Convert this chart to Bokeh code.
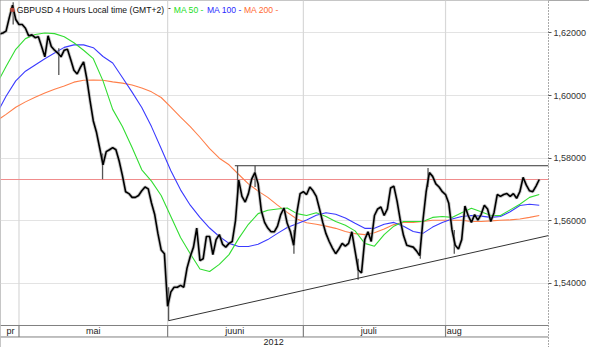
from bokeh.plotting import figure
from bokeh.models import (Range1d, FixedTicker, CustomJSTickFormatter,
                          Label, ColumnDataSource)
from bokeh.core.properties import value
from bokeh.embed import file_html
from bokeh.resources import INLINE

# ---------------- data (x = trading days since 1 May 2012) ----------------
close_start = -3.0
close_step = 0.5
close = [1.6197, 1.6200, 1.6206, 1.6249, 1.6289, 1.6243, 1.6227, 1.6227, 1.6215, 1.6191,
         1.6194, 1.6185, 1.6188, 1.6157, 1.6124, 1.6191, 1.6157, 1.6145, 1.6136, 1.6124,
         1.6145, 1.6148, 1.6115, 1.6081, 1.6069, 1.6090, 1.6108, 1.6053, 1.5983, 1.5919,
         1.5882, 1.5831, 1.5779, 1.5821, 1.5827, 1.5834, 1.5827, 1.5791, 1.5745, 1.5693,
         1.5687, 1.5675, 1.5675, 1.5681, 1.5696, 1.5708, 1.5702, 1.5657, 1.5620, 1.5559,
         1.5507, 1.5495, 1.5327, 1.5373, 1.5388, 1.5388, 1.5394, 1.5388, 1.5449, 1.5486,
         1.5516, 1.5577, 1.5473, 1.5479, 1.5550, 1.5550, 1.5492, 1.5540, 1.5556, 1.5525,
         1.5516, 1.5528, 1.5534, 1.5601, 1.5730, 1.5678, 1.5660, 1.5687, 1.5733, 1.5754,
         1.5718, 1.5632, 1.5595, 1.5577, 1.5565, 1.5565, 1.5583, 1.5620, 1.5641, 1.5592,
         1.5565, 1.5522, 1.5626, 1.5687, 1.5693, 1.5684, 1.5708, 1.5696, 1.5678, 1.5638,
         1.5595, 1.5559, 1.5534, 1.5513, 1.5495, 1.5510, 1.5528, 1.5519, 1.5528, 1.5565,
         1.5504, 1.5443, 1.5434, 1.5540, 1.5565, 1.5534, 1.5617, 1.5638, 1.5644, 1.5617,
         1.5638, 1.5705, 1.5711, 1.5663, 1.5602, 1.5553, 1.5522, 1.5519, 1.5516, 1.5504,
         1.5489, 1.5601, 1.5693, 1.5754, 1.5742, 1.5718, 1.5708, 1.5693, 1.5684, 1.5656,
         1.5571, 1.5522, 1.5510, 1.5540, 1.5647, 1.5617, 1.5595, 1.5620, 1.5602, 1.5620,
         1.5650, 1.5638, 1.5598, 1.5626, 1.5684, 1.5678, 1.5684, 1.5687, 1.5678, 1.5687,
         1.5672, 1.5693, 1.5739, 1.5714, 1.5696, 1.5693, 1.5711, 1.5732]

# a few visible bar extremes (high / low wicks)
wick_days = [-0.9, 6.16, 12.93, 23.15, 33.82, 36.53, 42.54, 52.47, 62.09, 63.29, 67.35]
wick_high = [1.6298, 1.6151, 1.5815, 1.5388, 1.5776, 1.5776, 1.5571, 1.5479, 1.5510, 1.5769, 1.5571]
wick_low = [1.6227, 1.6066, 1.5733, 1.5281, 1.5693, 1.5708, 1.5495, 1.5412, 1.5479, 1.5708, 1.5495]

ma_start = -3.5
ma_step = 1.5
ma50 = [1.6035, 1.6093, 1.6148, 1.6182, 1.6195, 1.6200, 1.6198, 1.6188, 1.6169, 1.6145,
        1.6118, 1.6047, 1.5956, 1.5901, 1.5834, 1.5763, 1.5727, 1.5681, 1.5614, 1.5547,
        1.5495, 1.5446, 1.5438, 1.5461, 1.5492, 1.5544, 1.5589, 1.5623, 1.5634, 1.5638,
        1.5641, 1.5623, 1.5617, 1.5626, 1.5614, 1.5598, 1.5586, 1.5568, 1.5528, 1.5519,
        1.5556, 1.5583, 1.5598, 1.5598, 1.5598, 1.5611, 1.5614, 1.5611, 1.5626, 1.5640,
        1.5629, 1.5617, 1.5617, 1.5635, 1.5653, 1.5675, 1.5684]
ma100 = [1.5940, 1.5998, 1.6047, 1.6078, 1.6098, 1.6118, 1.6136, 1.6154, 1.6162, 1.6162,
         1.6153, 1.6125, 1.6104, 1.6058, 1.6011, 1.5962, 1.5901, 1.5831, 1.5760, 1.5699,
         1.5650, 1.5611, 1.5577, 1.5550, 1.5528, 1.5518, 1.5518, 1.5525, 1.5540, 1.5560,
         1.5579, 1.5591, 1.5603, 1.5618, 1.5626, 1.5621, 1.5609, 1.5592, 1.5576, 1.5576,
         1.5589, 1.5595, 1.5583, 1.5566, 1.5560, 1.5580, 1.5595, 1.5606, 1.5614, 1.5617,
         1.5615, 1.5611, 1.5614, 1.5629, 1.5649, 1.5653, 1.5650]
ma200 = [1.5919, 1.5940, 1.5963, 1.5980, 1.5995, 1.6008, 1.6020, 1.6031, 1.6043, 1.6049,
         1.6050, 1.6049, 1.6044, 1.6040, 1.6034, 1.6024, 1.6012, 1.5994, 1.5963, 1.5931,
         1.5901, 1.5867, 1.5831, 1.5800, 1.5779, 1.5748, 1.5718, 1.5695, 1.5675, 1.5650,
         1.5627, 1.5606, 1.5594, 1.5589, 1.5583, 1.5576, 1.5566, 1.5559, 1.5556, 1.5562,
         1.5574, 1.5588, 1.5595, 1.5595, 1.5598, 1.5602, 1.5602, 1.5602, 1.5602, 1.5598,
         1.5598, 1.5600, 1.5602, 1.5603, 1.5606, 1.5611, 1.5617]

last_price = 1.5732
last_price_text = "1,57320"
resistance_price = 1.5776
resistance_from_day = 33.4
support_days = [23.15, 81.93]
support_prices = [1.5281, 1.5553]

view_days = [-2.86, 81.93]
price_top = 1.63038
price_bottom = 1.52657          # bottom of the price pane
month_row_bottom = 1.52290      # month row sits below the price pane
year_row_bottom = 1.51954       # year row below the month row
price_ticks = [1.54, 1.56, 1.58, 1.60, 1.62]
month_bounds = [0.0, 23.0, 44.0, 66.0]
month_label_days = [-1.3, 11.5, 33.4, 54.1, 67.35]
month_labels = ["pr", "mai", "juuni", "juuli", "aug"]
year_label_days = [39.4]
year_labels = ["2012"]

title_text = "GBPUSD 4 Hours Local time (GMT+2)"
legend_items = [("MA 50 -", "#22dd22"), ("MA 100 -", "#2a2aff"), ("MA 200 -", "#ff6a33")]

FONT = "Liberation Sans"
GREEN, BLUE, ORANGE = "#33dd33", "#3b3bff", "#ff7f4a"
BAND = "#808080"

# ---------------- figure ----------------
p = figure(width=589, height=347, output_backend="svg", toolbar_location=None,
           x_range=Range1d(*view_days), y_range=Range1d(year_row_bottom, price_top),
           y_axis_location="right", x_axis_location=None,
           min_border_left=0, min_border_top=0, min_border_right=40, min_border_bottom=0)
p.outline_line_color = None
p.background_fill_color = "white"
p.border_fill_color = "white"
p.styles = {"outline": "1px solid #8c8c8c", "outline-offset": "-1px"}

# right price axis
ya = p.yaxis[0]
ya.ticker = FixedTicker(ticks=price_ticks, minor_ticks=[])
ya.formatter = CustomJSTickFormatter(code="return tick.toFixed(5).replace('.', ',');")
ya.axis_line_color = "#555555"
ya.axis_line_dash = "1 2"
ya.major_tick_out = 3
ya.major_tick_in = 0
ya.major_tick_line_color = "#555555"
ya.major_label_standoff = 2
ya.major_label_text_font = FONT
ya.major_label_text_font_size = "9px"
ya.major_label_text_color = "#333333"

p.ygrid.ticker = FixedTicker(ticks=price_ticks)
p.ygrid.grid_line_color = "#e3e3e3"
p.xgrid.visible = False

# vertical month grid lines in the price pane
n = len(month_bounds)
grid_src = ColumnDataSource(dict(x=month_bounds, y0=[price_bottom] * n, y1=[price_top] * n,
                                 y2=[month_row_bottom] * n))
p.segment(x0="x", x1="x", y0="y0", y1="y1", source=grid_src,
          line_color="#d8d8d8", line_width=1.2)

# ---------------- time rows (months / year) ----------------
p.segment(x0=[view_days[0]] * 2, x1=[view_days[1]] * 2,
          y0=[price_bottom, month_row_bottom], y1=[price_bottom, month_row_bottom],
          line_color=BAND, line_width=1)
p.segment(x0="x", x1="x", y0="y2", y1="y0", source=grid_src,
          line_color=BAND, line_width=1.2)
p.text(x=month_label_days, y=[(price_bottom + month_row_bottom) / 2] * len(month_labels),
       text=month_labels, text_font=value(FONT), text_font_size="9px", text_color="#222222",
       text_align="center", text_baseline="middle")
p.text(x=year_label_days, y=[(month_row_bottom + year_row_bottom) / 2] * len(year_labels),
       text=year_labels, text_font=value(FONT), text_font_size="9px", text_color="#222222",
       text_align="center", text_baseline="middle")

# ---------------- price glyphs ----------------
p.line(view_days, [last_price, last_price], line_color="#f08c8c", line_width=1.2)

ma_days = [ma_start + ma_step * i for i in range(len(ma50))]
p.line(ma_days, ma200, line_color=ORANGE, line_width=1.1)
p.line(ma_days, ma100, line_color=BLUE, line_width=1.1)
p.line(ma_days, ma50, line_color=GREEN, line_width=1.1)

close_days = [close_start + close_step * i for i in range(len(close))]
src = ColumnDataSource(dict(day=close_days, close=close))
p.segment(x0=wick_days, x1=wick_days, y0=wick_low, y1=wick_high,
          line_color="#555555", line_width=1.3)
p.line("day", "close", source=src, line_color="#9a9a9a", line_width=3.4, line_alpha=0.55)
p.line("day", "close", source=src, line_color="#000000", line_width=1.6)

p.line([resistance_from_day, view_days[1]], [resistance_price, resistance_price],
       line_color="#333333", line_width=1)
p.line(support_days, support_prices, line_color="#333333", line_width=1)

# last price tag on the axis
p.add_layout(Label(x=551, x_units="screen", y=last_price, y_units="data",
                   text=" " + last_price_text + " ", text_font=FONT, text_font_size="9px",
                   text_color="#222222", text_baseline="middle",
                   border_line_color="#555555", background_fill_color="white"))

# header / legend text
title_y = 1.6290
p.add_layout(Label(x=9.5, x_units="screen", y=title_y, text="■", text_font=FONT,
                   text_font_size="8px", text_color="#b5443a", text_baseline="top"))
p.add_layout(Label(x=16.3, x_units="screen", y=title_y, text=title_text, text_font=FONT,
                   text_font_size="8.6px", text_color="#111111", text_baseline="top"))
p.add_layout(Label(x=167.5, x_units="screen", y=title_y, text="-", text_font=FONT,
                   text_font_size="8.6px", text_color="#111111", text_baseline="top"))
for (txt, col), xs in zip(legend_items, [173.3, 206.4, 243.4]):
    p.add_layout(Label(x=xs, x_units="screen", y=title_y, text=txt, text_font=FONT,
                       text_font_size="8.6px", text_color=col, text_baseline="top"))

open("out.html", "w").write(file_html(p, INLINE))
